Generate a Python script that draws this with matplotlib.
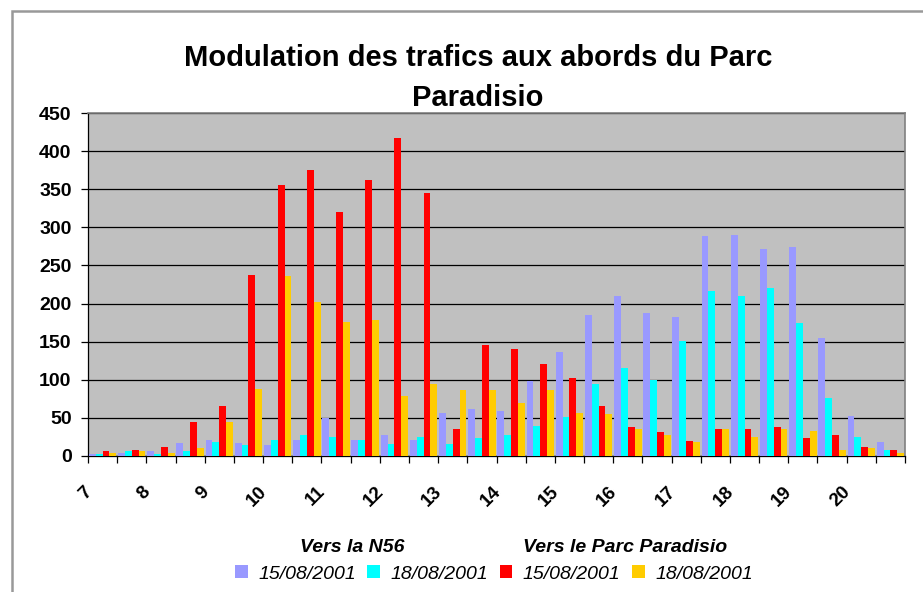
import matplotlib
matplotlib.use("Agg")
import matplotlib.pyplot as plt
import numpy as np
from matplotlib.patches import Rectangle
from matplotlib.transforms import offset_copy

# ---------------------------------------------------------
# Données (créneaux d'une demi-heure de 7h à 20h30)
# ---------------------------------------------------------
etiquettes = ['7', '', '8', '', '9', '', '10', '', '11', '', '12', '', '13', '',
              '14', '', '15', '', '16', '', '17', '', '18', '', '19', '', '20', '']

n56_15 = [3, 4, 6, 17, 21, 17, 14, 21, 50, 21, 27, 21, 57, 62,
          59, 98, 136, 185, 210, 187, 183, 289, 290, 272, 274, 155, 53, 18]
n56_18 = [3, 6, 3, 6, 19, 14, 21, 27, 25, 21, 16, 25, 16, 24,
          27, 40, 51, 94, 116, 100, 151, 216, 210, 221, 174, 76, 25, 8]
parc_15 = [6, 8, 12, 44, 66, 238, 356, 375, 320, 362, 417, 345, 35, 145,
           141, 121, 102, 66, 38, 31, 20, 36, 36, 38, 23, 27, 12, 8]
parc_18 = [4, 6, 4, 10, 44, 88, 236, 202, 176, 178, 79, 94, 87, 87,
           70, 87, 57, 55, 36, 27, 18, 35, 25, 35, 33, 8, 10, 4]

series = [n56_15, n56_18, parc_15, parc_18]
dates = ['15/08/2001', '18/08/2001', '15/08/2001', '18/08/2001']
couleurs = ['#9999FF', '#00FFFF', '#FF0000', '#FFCC00']

plt.rcParams['font.family'] = ['Liberation Sans', 'DejaVu Sans']

W, H = 923, 592
fig = plt.figure(figsize=(W / 100, H / 100), dpi=100)

# cadre gris de la zone de graphique
fig.patches.append(Rectangle((12 / W, -0.1), 1.2, (H - 11) / H + 0.1,
                             transform=fig.transFigure, fill=False,
                             edgecolor='#999999', linewidth=1.8))

ax = fig.add_axes([88 / W, (H - 456) / H, 817 / W, 343 / H])
ax.set_facecolor('#C0C0C0')

x = np.arange(len(etiquettes))
largeur = 0.235
for k, (vals, coul) in enumerate(zip(series, couleurs)):
    ax.bar(x + (k - 1.5) * largeur, vals, width=largeur, color=coul,
           linewidth=0, zorder=3, label=dates[k])

ax.set_xlim(-0.5, len(etiquettes) - 0.5)
ax.set_ylim(0, 450)
ax.set_yticks(np.arange(0, 451, 50))
ax.set_yticklabels([str(v) for v in range(0, 451, 50)], fontsize=14, fontweight='bold')
ax.grid(axis='y', color='black', linewidth=0.9, zorder=1)
ax.set_axisbelow(True)

# graduations entre les catégories, étiquettes écrites à part
ax.set_xticks(np.arange(-0.5, len(etiquettes), 1.0))
ax.set_xticklabels([])
ax.tick_params(axis='x', direction='out', length=5, width=0.9, color='black')
ax.tick_params(axis='y', direction='out', length=4.8, width=0.9, pad=7, color='black')

trans = offset_copy(ax.get_xaxis_transform(), fig=fig, x=-9.4, y=-24, units='points')
for i, lab in enumerate(etiquettes):
    if lab:
        ax.text(i, 0, lab, transform=trans, rotation=45, rotation_mode='anchor',
                ha='right', va='center', fontsize=13.5, fontweight='bold')

for s in ['left', 'bottom']:
    ax.spines[s].set_color('black')
    ax.spines[s].set_linewidth(0.9)
for s in ['top', 'right']:
    ax.spines[s].set_color('#808080')
    ax.spines[s].set_linewidth(1.2)

# titre
fig.text(478 / W, 1 - 78 / H, 'Modulation des trafics aux abords du Parc\nParadisio',
         ha='center', va='center', fontsize=21, fontweight='bold', linespacing=1.5)

# légende
fig.text(352 / W, 1 - 547 / H, 'Vers la N56', ha='center', va='center',
         fontsize=14, fontweight='bold', style='italic')
fig.text(625 / W, 1 - 547 / H, 'Vers le Parc Paradisio', ha='center', va='center',
         fontsize=14, fontweight='bold', style='italic')
handles, labels = ax.get_legend_handles_labels()
fig.legend(handles, labels, ncol=4, loc='center', bbox_to_anchor=(494 / W, 1 - 574 / H),
           frameon=False, prop={'size': 14, 'style': 'italic'},
           handlelength=0.65, handleheight=0.65, handletextpad=0.55,
           columnspacing=0.58, borderpad=0, borderaxespad=0)

fig.savefig('out.png', dpi=100)
